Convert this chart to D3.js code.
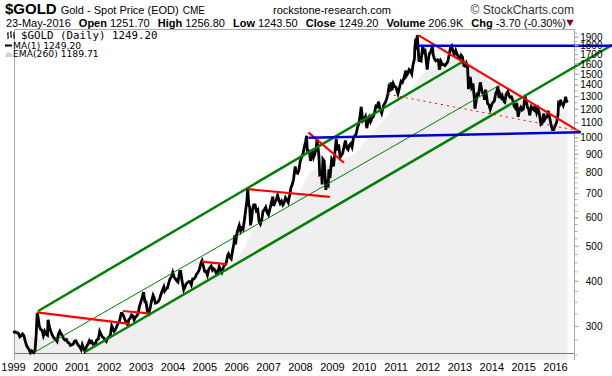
<!DOCTYPE html>
<html>
<head>
<meta charset="utf-8">
<script src="https://cdn.jsdelivr.net/npm/d3@7"></script>
<style>
  body { margin: 0; background: #fff; }
  svg { display: block; font-family: "Liberation Sans", Arial, sans-serif; }
</style>
</head>
<body>
<div id="chartMain"></div>
<script>
// gold spot (date, price)
const gold = [
  ["1999-01-04",287],["1999-01-20",289],["1999-02-05",288],["1999-02-20",287],["1999-03-05",286],["1999-03-20",280],["1999-04-05",282],["1999-04-20",285],["1999-05-05",282],["1999-05-20",273],["1999-06-05",265],["1999-06-20",261],["1999-07-05",258],["1999-07-20",253],["1999-08-05",256],["1999-08-25",253],["1999-09-10",256],["1999-09-24",285],["1999-10-05",325],["1999-10-15",318],["1999-10-29",300],["1999-11-15",293],["1999-11-30",292],["1999-12-15",282],["1999-12-31",290],
  ["2000-01-15",285],["2000-01-31",283],["2000-02-07",312],["2000-02-20",300],["2000-03-05",292],["2000-03-20",285],["2000-04-05",280],["2000-04-20",277],["2000-05-05",275],["2000-05-20",272],["2000-06-05",285],["2000-06-20",290],["2000-07-05",285],["2000-07-20",282],["2000-08-05",276],["2000-08-20",274],["2000-09-05",275],["2000-09-20",270],["2000-10-05",269],["2000-10-20",265],["2000-11-05",266],["2000-11-20",267],["2000-12-05",272],["2000-12-20",273],
  ["2001-01-05",268],["2001-01-20",265],["2001-02-05",262],["2001-02-20",258],["2001-03-05",266],["2001-03-20",260],["2001-04-02",256],["2001-04-20",262],["2001-05-05",266],["2001-05-25",273],["2001-06-05",270],["2001-06-20",272],["2001-07-05",267],["2001-07-20",268],["2001-08-05",269],["2001-08-20",275],["2001-09-05",276],["2001-09-20",290],["2001-10-05",285],["2001-10-20",280],["2001-11-05",278],["2001-11-20",275],["2001-12-05",272],["2001-12-20",277],
  ["2002-01-05",280],["2002-01-20",282],["2002-02-05",300],["2002-02-20",295],["2002-03-05",290],["2002-03-20",293],["2002-04-05",300],["2002-04-20",305],["2002-05-05",310],["2002-05-25",325],["2002-06-05",325],["2002-06-20",320],["2002-07-05",313],["2002-07-25",305],["2002-08-05",303],["2002-08-20",312],["2002-09-05",315],["2002-09-20",322],["2002-10-05",320],["2002-10-20",312],["2002-11-05",318],["2002-11-20",320],["2002-12-05",325],["2002-12-20",340],
  ["2003-01-05",350],["2003-01-20",360],["2003-02-05",372],["2003-02-20",350],["2003-03-05",350],["2003-03-20",330],["2003-04-05",325],["2003-04-20",335],["2003-05-05",350],["2003-05-25",365],["2003-06-05",360],["2003-06-20",347],["2003-07-05",348],["2003-07-20",350],["2003-08-05",355],["2003-08-20",365],["2003-09-05",375],["2003-09-25",385],["2003-10-05",375],["2003-10-20",380],["2003-11-05",382],["2003-11-20",395],["2003-12-05",405],["2003-12-20",410],
  ["2004-01-05",422],["2004-01-20",410],["2004-02-05",405],["2004-02-20",400],["2004-03-05",397],["2004-03-25",425],["2004-04-05",425],["2004-04-20",400],["2004-05-10",378],["2004-05-25",385],["2004-06-05",392],["2004-06-20",395],["2004-07-05",398],["2004-07-20",398],["2004-08-05",390],["2004-08-20",405],["2004-09-05",405],["2004-09-20",410],["2004-10-05",418],["2004-10-20",422],["2004-11-05",430],["2004-11-25",450],["2004-12-05",455],["2004-12-20",440],
  ["2005-01-05",425],["2005-01-20",425],["2005-02-05",415],["2005-02-20",430],["2005-03-05",435],["2005-03-20",440],["2005-04-05",428],["2005-04-20",432],["2005-05-05",428],["2005-05-20",418],["2005-06-05",424],["2005-06-20",438],["2005-07-05",428],["2005-07-20",422],["2005-08-05",435],["2005-08-20",442],["2005-09-05",445],["2005-09-25",470],["2005-10-05",475],["2005-10-20",465],["2005-11-05",460],["2005-11-20",485],["2005-12-05",505],["2005-12-15",535],["2005-12-25",505],
  ["2006-01-05",535],["2006-01-20",555],["2006-02-05",570],["2006-02-20",550],["2006-03-05",560],["2006-03-20",555],["2006-04-05",590],["2006-04-20",630],["2006-05-05",670],["2006-05-12",725],["2006-05-25",650],["2006-06-05",640],["2006-06-14",570],["2006-06-25",590],["2006-07-05",625],["2006-07-20",650],["2006-08-05",650],["2006-08-20",625],["2006-09-05",630],["2006-09-20",585],["2006-10-05",575],["2006-10-20",590],["2006-11-05",625],["2006-11-20",630],["2006-12-05",640],["2006-12-20",620],
  ["2007-01-05",610],["2007-01-20",630],["2007-02-05",655],["2007-02-25",685],["2007-03-05",645],["2007-03-20",660],["2007-04-05",670],["2007-04-20",690],["2007-05-05",670],["2007-05-20",655],["2007-06-05",665],["2007-06-20",650],["2007-07-05",660],["2007-07-20",680],["2007-08-05",670],["2007-08-20",660],["2007-09-05",690],["2007-09-20",725],["2007-10-05",740],["2007-10-20",765],["2007-11-08",830],["2007-11-20",800],["2007-12-05",795],["2007-12-20",810],
  ["2008-01-05",860],["2008-01-20",880],["2008-02-05",900],["2008-02-20",940],["2008-03-05",970],["2008-03-17",1010],["2008-03-25",920],["2008-04-05",920],["2008-04-20",910],["2008-05-01",860],["2008-05-20",920],["2008-06-05",880],["2008-06-20",900],["2008-07-05",935],["2008-07-15",985],["2008-07-30",920],["2008-08-05",890],["2008-08-15",790],["2008-09-05",800],["2008-09-11",740],["2008-09-20",870],["2008-10-05",860],["2008-10-24",715],["2008-11-05",750],["2008-11-20",740],["2008-11-28",815],["2008-12-10",770],["2008-12-30",870],
  ["2009-01-10",860],["2009-01-20",830],["2009-02-05",910],["2009-02-20",990],["2009-03-05",920],["2009-03-20",955],["2009-04-05",880],["2009-04-20",890],["2009-05-05",905],["2009-05-25",955],["2009-06-05",980],["2009-06-20",935],["2009-07-05",925],["2009-07-20",950],["2009-08-05",960],["2009-08-20",940],["2009-09-05",995],["2009-09-20",1010],["2009-10-05",1020],["2009-10-20",1060],["2009-11-05",1090],["2009-11-20",1145],["2009-12-03",1215],["2009-12-20",1110],
  ["2010-01-05",1120],["2010-01-20",1140],["2010-02-05",1060],["2010-02-20",1115],["2010-03-05",1135],["2010-03-20",1105],["2010-04-05",1130],["2010-04-20",1140],["2010-05-05",1170],["2010-05-20",1220],["2010-06-05",1215],["2010-06-20",1255],["2010-07-05",1200],["2010-07-25",1165],["2010-08-05",1195],["2010-08-20",1230],["2010-09-05",1250],["2010-09-20",1275],["2010-10-05",1320],["2010-10-15",1370],["2010-10-30",1340],["2010-11-08",1420],["2010-11-20",1350],["2010-12-05",1410],["2010-12-20",1385],
  ["2011-01-05",1375],["2011-01-28",1320],["2011-02-05",1345],["2011-02-20",1390],["2011-03-05",1430],["2011-03-20",1420],["2011-04-05",1455],["2011-04-28",1530],["2011-05-05",1480],["2011-05-20",1500],["2011-06-05",1540],["2011-06-20",1530],["2011-07-05",1500],["2011-07-20",1590],["2011-08-05",1650],["2011-08-10",1780],["2011-08-22",1880],["2011-08-29",1750],["2011-09-06",1920],["2011-09-15",1780],["2011-09-26",1620],["2011-10-05",1640],["2011-10-20",1630],["2011-11-08",1795],["2011-11-20",1720],["2011-12-05",1735],["2011-12-29",1540],
  ["2012-01-10",1640],["2012-01-25",1710],["2012-02-05",1720],["2012-02-28",1785],["2012-03-05",1700],["2012-03-20",1650],["2012-04-05",1630],["2012-04-20",1640],["2012-05-05",1640],["2012-05-16",1540],["2012-05-28",1580],["2012-06-05",1620],["2012-06-20",1590],["2012-07-05",1590],["2012-07-20",1580],["2012-08-05",1600],["2012-08-20",1620],["2012-09-05",1690],["2012-09-20",1770],["2012-10-05",1790],["2012-10-20",1730],["2012-11-05",1700],["2012-11-20",1740],["2012-12-05",1700],["2012-12-28",1655],
  ["2013-01-05",1650],["2013-01-20",1690],["2013-02-05",1670],["2013-02-20",1580],["2013-03-05",1575],["2013-03-20",1605],["2013-04-05",1560],["2013-04-15",1360],["2013-04-20",1420],["2013-05-05",1470],["2013-05-20",1380],["2013-06-05",1410],["2013-06-20",1290],["2013-06-28",1200],["2013-07-10",1250],["2013-07-25",1330],["2013-08-05",1300],["2013-08-28",1420],["2013-09-05",1390],["2013-09-20",1330],["2013-10-05",1320],["2013-10-15",1270],["2013-10-28",1355],["2013-11-20",1240],["2013-12-05",1230],["2013-12-20",1195],
  ["2014-01-05",1230],["2014-01-20",1250],["2014-02-05",1260],["2014-02-20",1320],["2014-03-05",1340],["2014-03-17",1385],["2014-03-31",1285],["2014-04-10",1320],["2014-04-25",1290],["2014-05-05",1305],["2014-05-28",1255],["2014-06-05",1250],["2014-06-20",1315],["2014-07-10",1340],["2014-07-25",1300],["2014-08-05",1290],["2014-08-20",1295],["2014-09-05",1265],["2014-09-20",1220],["2014-10-05",1205],["2014-10-20",1245],["2014-11-05",1140],["2014-11-20",1190],["2014-12-05",1210],["2014-12-20",1190],
  ["2015-01-05",1200],["2015-01-22",1300],["2015-02-05",1265],["2015-02-20",1210],["2015-03-05",1200],["2015-03-17",1150],["2015-04-05",1215],["2015-04-20",1200],["2015-05-05",1190],["2015-05-18",1225],["2015-06-05",1170],["2015-06-20",1200],["2015-07-05",1165],["2015-07-24",1085],["2015-08-05",1090],["2015-08-25",1165],["2015-09-05",1120],["2015-09-20",1135],["2015-10-05",1140],["2015-10-15",1185],["2015-10-30",1140],["2015-11-20",1075],["2015-12-03",1050],["2015-12-17",1050],
  ["2016-01-05",1080],["2016-01-20",1100],["2016-02-05",1160],["2016-02-11",1245],["2016-02-25",1235],["2016-03-05",1270],["2016-03-15",1240],["2016-03-30",1235],["2016-04-05",1225],["2016-04-20",1255],["2016-05-02",1295],["2016-05-10",1265],["2016-05-23",1249]
];

// EMA(260) as it shows in the picture
const ema260 = [
  ["1999-01-04",295],["1999-04-01",291],["1999-07-01",283],["1999-10-01",276],["2000-01-01",282],["2000-04-01",285],["2000-07-01",283],["2000-10-01",280],
  ["2001-01-01",276],["2001-04-01",271],["2001-07-01",269],["2001-10-01",271],["2002-01-01",274],["2002-04-01",280],["2002-07-01",292],["2002-10-01",301],
  ["2003-01-01",312],["2003-04-01",326],["2003-07-01",334],["2003-10-01",344],["2004-01-01",360],["2004-04-01",375],["2004-07-01",386],["2004-10-01",394],
  ["2005-01-01",406],["2005-04-01",415],["2005-07-01",422],["2005-10-01",432],["2006-01-01",455],["2006-04-01",495],["2006-07-01",545],["2006-10-01",572],
  ["2007-01-01",592],["2007-04-01",615],["2007-07-01",634],["2007-10-01",660],["2008-01-01",710],["2008-04-01",780],["2008-07-01",820],["2008-10-01",840],
  ["2009-01-01",840],["2009-04-01",862],["2009-07-01",880],["2009-10-01",905],["2010-01-01",965],["2010-04-01",1020],["2010-07-01",1085],["2010-10-01",1145],
  ["2011-01-01",1225],["2011-04-01",1290],["2011-07-01",1360],["2011-10-01",1460],["2012-01-01",1535],["2012-04-01",1590],["2012-07-01",1615],["2012-10-01",1640],
  ["2013-01-01",1655],["2013-04-01",1635],["2013-07-01",1555],["2013-10-01",1480],["2014-01-01",1410],["2014-04-01",1350],["2014-07-01",1320],["2014-10-01",1295],
  ["2015-01-01",1258],["2015-04-01",1238],["2015-07-01",1212],["2015-10-01",1185],["2016-01-01",1160],["2016-04-01",1170],["2016-05-23",1190]
];

// trend lines drawn on the chart: [startDate, startPrice, endDate, endPrice]
const redLines = [
  ["1999-10-02",327,"2002-09-02",304],
  ["2002-06-13",330,"2003-04-08",325],
  ["2004-12-01",452,"2005-09-14",445],
  ["2006-05-19",718,"2008-12-10",684],
  ["2008-04-07",1032,"2009-05-20",850],
  ["2011-09-17",1920,"2016-10-22",1032]
];
const redDotted = [["2010-10-06",1316,"2016-10-14",1041]];
const blueLines = [
  ["2011-09-12",1795,"2017-10-16",1795],
  ["2008-04-07",997,"2016-10-22",1032]
];
const greenThick = [
  ["1999-10-17",330,"2013-02-01",1617],
  ["2001-04-04",254,"2017-10-16",1802]
];
const greenThin = [["1999-09-09",254,"2014-04-10",1396]];

const priceTicks = [300,400,500,600,700,800,900,1000,1100,1200,1300,1400,1500,1600,1700,1800,1900];
const minorTicks = d3.range(250, 1000, 25).concat(d3.range(1000, 1951, 50));
const years = d3.range(1999, 2017);

const width = 612, height = 376;
const plotL = 14.5, plotR = 574.5, plotT = 29.5, plotB = 360;

const parse = d3.timeParse("%Y-%m-%d");

const svg = d3.select("#chartMain")
  .append("svg")
  .attr("width", width)
  .attr("height", height);

const x = d3.scaleTime()
  .domain([new Date(1999, 0, 1), new Date(2016, 0, 1)])
  .range([13, 555]);

const y = d3.scaleLog()
  .domain([241.4, 1989.6])
  .range([plotB, plotT]);

// EMA mountain
const area = d3.area()
  .x(d => x(parse(d[0])))
  .y0(plotB)
  .y1(d => y(d[1]))
  .curve(d3.curveMonotoneX);

svg.append("path")
  .datum(ema260)
  .attr("fill", "#efefef")
  .attr("d", area);

// bottom rule
svg.append("line")
  .attr("x1", plotL).attr("x2", plotR)
  .attr("y1", 353.5).attr("y2", 353.5)
  .attr("stroke", "#777");

// frame
svg.append("path")
  .attr("d", `M${plotL},${plotB}V${plotT}H${plotR}V${plotB}`)
  .attr("fill", "none")
  .attr("stroke", "#aaa");

// price
const line = d3.line()
  .x(d => x(parse(d[0])))
  .y(d => y(d[1]));

svg.append("path")
  .datum(gold)
  .attr("fill", "none")
  .attr("stroke", "#000")
  .attr("stroke-width", 2.8)
  .attr("d", line);

// trend lines
function drawLines(rows, color, w, dash) {
  svg.append("g").selectAll("line")
    .data(rows)
    .join("line")
    .attr("x1", d => x(parse(d[0])))
    .attr("y1", d => y(d[1]))
    .attr("x2", d => x(parse(d[2])))
    .attr("y2", d => y(d[3]))
    .attr("stroke", color)
    .attr("stroke-width", w)
    .attr("stroke-dasharray", dash || null);
}
drawLines(greenThin, "#008000", 1);
drawLines(greenThick, "#008000", 2.5);
drawLines(redDotted, "#ff0000", 1, "2,4");
drawLines(redLines, "#ff0000", 2.2);
drawLines(blueLines, "#0000cc", 2.5);

// right axis
const minorAxis = d3.axisRight(y).tickValues(minorTicks).tickSize(3).tickFormat("");
svg.append("g")
  .attr("transform", `translate(${plotR},0)`)
  .call(minorAxis)
  .call(g => g.select(".domain").remove())
  .selectAll("line").attr("stroke", "#aaa");

const yAxis = d3.axisRight(y).tickValues(priceTicks).tickSize(4).tickFormat(d3.format("d"));
svg.append("g")
  .attr("transform", `translate(${plotR},0)`)
  .call(yAxis)
  .call(g => g.select(".domain").remove())
  .call(g => g.selectAll("line").attr("stroke", "#aaa"))
  .selectAll("text")
  .attr("x", 28)
  .attr("dy", "0.34em")
  .attr("text-anchor", "end")
  .attr("fill", "#000")
  .style("font-size", "10px")
  .style("font-family", "'Liberation Sans', Arial, sans-serif");

// bottom axis
const xAxis = d3.axisBottom(x)
  .tickValues(years.map(yy => new Date(yy, 0, 1)))
  .tickSize(0)
  .tickFormat(d3.timeFormat("%Y"));
svg.append("g")
  .attr("transform", `translate(0,${plotB})`)
  .call(xAxis)
  .call(g => g.select(".domain").remove())
  .selectAll("text")
  .attr("y", 3)
  .attr("fill", "#000")
  .style("font-size", "11px")
  .style("font-family", "'Liberation Sans', Arial, sans-serif");

// header
const head = svg.append("g").attr("fill", "#000");
const t1 = head.append("text").attr("x", 5).attr("y", 13.5);
t1.append("tspan").attr("font-weight", "bold").attr("font-size", 15).text("$GOLD");
t1.append("tspan").attr("font-size", 11).attr("dx", 4).text("Gold - Spot Price (EOD)");
t1.append("tspan").attr("font-size", 10).attr("dx", 4).text("CME");

head.append("text").attr("x", 273).attr("y", 13.5).attr("font-size", 11).text("rockstone-research.com");
head.append("text").attr("x", 574).attr("y", 13.5).attr("text-anchor", "end")
  .attr("font-size", 12).attr("fill", "#333").text("© StockCharts.com");

const headerStats = [
  ["", "23-May-2016"], ["Open", "1251.70"], ["High", "1256.80"], ["Low", "1243.50"],
  ["Close", "1249.20"], ["Volume", "206.9K"], ["Chg", "-3.70 (-0.30%)"]
];
const t2 = head.append("text").attr("x", 6).attr("y", 27).attr("font-size", 11);
headerStats.forEach(s => {
  if (s[0]) t2.append("tspan").attr("font-weight", "bold").attr("dx", 8).text(s[0]);
  t2.append("tspan").attr("dx", s[0] ? 3 : 0).text(s[1]);
});
head.append("path")
  .attr("d", d3.symbol(d3.symbolTriangle, 24)())
  .attr("transform", "translate(570,22) rotate(180)")
  .attr("fill", "#8b0022");

// legend
const leg = svg.append("g");
leg.append("path")
  .attr("d", "M8,32V39M7,34H8M8,37H9M11,31V38M10,33H11M11,36H12M14,32V39M13,35H14M14,37H15")
  .attr("stroke", "#000").attr("fill", "none");
leg.append("text").attr("x", 21).attr("y", 39)
  .style("font-family", "'DejaVu Sans Mono', monospace").attr("font-size", 10.8)
  .text("$GOLD (Daily) 1249.20");
leg.append("line").attr("x1", 5).attr("x2", 12).attr("y1", 45.5).attr("y2", 45.5)
  .attr("stroke", "#000").attr("stroke-width", 2);
leg.append("text").attr("x", 13).attr("y", 48.5)
  .style("font-family", "'DejaVu Sans', sans-serif").attr("font-size", 9.2).text("MA(1) 1249.20");
leg.append("path").attr("d", "M5,57L8,51L10,54L11,52L13,57Z").attr("fill", "#cfcfcf");
leg.append("text").attr("x", 13).attr("y", 57)
  .style("font-family", "'DejaVu Sans', sans-serif").attr("font-size", 9.2).text("EMA(260) 1189.71");
</script>
</body>
</html>
